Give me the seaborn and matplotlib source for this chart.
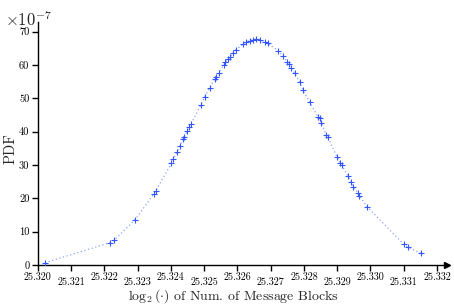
import numpy as np
import pandas as pd
import seaborn as sns
import matplotlib
matplotlib.use("Agg")
import matplotlib.pyplot as plt

# ---- data (PDF values in units of 1e-7) ----
x_vals = [25.32022, 25.32217, 25.32229, 25.32292, 25.32349, 25.32355, 25.32402, 25.32407,
          25.32419, 25.32427, 25.32437, 25.32440, 25.32450, 25.32455, 25.32460, 25.32490,
          25.32502, 25.32517, 25.32532, 25.32535, 25.32544, 25.32560, 25.32564, 25.32572,
          25.32579, 25.32587, 25.32595, 25.32617, 25.32627, 25.32637, 25.32647, 25.32657,
          25.32667, 25.32682, 25.32692, 25.32722, 25.32737, 25.32749, 25.32755, 25.32762,
          25.32772, 25.32787, 25.32797, 25.32817, 25.32842, 25.32847, 25.32852, 25.32867,
          25.32872, 25.32899, 25.32909, 25.32914, 25.32932, 25.32942, 25.32949, 25.32962,
          25.32967, 25.32990, 25.33100, 25.33112, 25.33152]
pdf_vals = [0.7, 6.7, 7.4, 13.5, 21.3, 22.3, 30.5, 31.7,
            33.8, 35.8, 37.7, 38.3, 40.3, 41.3, 42.2, 47.9,
            50.5, 53.1, 55.8, 56.5, 57.7, 60.1, 60.8, 61.8,
            62.5, 63.7, 64.5, 66.2, 67.0, 67.3, 67.5, 67.7,
            67.6, 67.0, 66.5, 64.3, 62.7, 61.0, 60.2, 59.0,
            57.5, 55.0, 52.5, 49.0, 44.5, 44.0, 42.7, 39.0,
            38.3, 32.5, 30.7, 30.0, 26.8, 25.0, 23.5, 21.7,
            20.7, 17.5, 6.2, 5.4, 3.5]
x_ticks = [25.320, 25.321, 25.322, 25.323, 25.324, 25.325, 25.326,
           25.327, 25.328, 25.329, 25.330, 25.331, 25.332]
x_tick_labels = ["25.320", "25.321", "25.322", "25.323", "25.324", "25.325", "25.326",
                 "25.327", "25.328", "25.329", "25.330", "25.331", "25.332"]
y_ticks = [0, 10, 20, 30, 40, 50, 60, 70]
y_tick_labels = ["0", "10", "20", "30", "40", "50", "60", "70"]

df = pd.DataFrame({"x": x_vals, "pdf": pdf_vals})

sns.set_style("ticks")
plt.rcParams["font.family"] = ["cmr10", "DejaVu Serif"]
plt.rcParams["mathtext.fontset"] = "cm"
plt.rcParams["axes.formatter.use_mathtext"] = True

fig = plt.figure(figsize=(4.54, 3.05), dpi=100)
ax = fig.add_axes([0.083, 0.131, 0.9015, 0.797])

sns.lineplot(data=df, x="x", y="pdf", ax=ax, color="#8fa3ff", linestyle=(0, (1, 2)),
             linewidth=0.9, sort=True)
sns.scatterplot(data=df, x="x", y="pdf", ax=ax, marker="+", color="#3355ff",
                s=22, linewidth=0.8, zorder=3)

ax.set_xlim(25.320, 25.3323)
ax.set_ylim(0, 72.9)
ax.set_xticks(x_ticks)
ax.set_xticklabels(x_tick_labels, fontsize=7.2)
ax.set_yticks(y_ticks)
ax.set_yticklabels(y_tick_labels, fontsize=7.5)
for i, t in enumerate(ax.xaxis.get_major_ticks()):
    t.set_pad(1.3 if i % 2 == 0 else 5.2)
ax.tick_params(axis="both", direction="out", length=4, width=1, colors="black")
ax.tick_params(axis="y", pad=2)

for side in ["top", "right"]:
    ax.spines[side].set_visible(False)
for side in ["left", "bottom"]:
    ax.spines[side].set_linewidth(1)
    ax.spines[side].set_color("black")

# axis arrows
ax.plot(1, 0, ">k", markersize=4, transform=ax.get_yaxis_transform(), clip_on=False)
ax.plot(0, 1, "^k", markersize=4, transform=ax.get_xaxis_transform(), clip_on=False)

ax.set_xlabel(r"$\log_2(\cdot)$ of Num. of Message Blocks", fontsize=10)
ax.xaxis.set_label_coords(0.478, -0.129)
ax.xaxis.label.set_va("center")
ax.set_ylabel("PDF", fontsize=10.5)
ax.yaxis.set_label_coords(-0.066, 0.48)
ax.yaxis.label.set_va("center")
fig.text(0.012, 0.97, r"$\times10^{-7}$", fontsize=12, ha="left", va="top")

fig.savefig("out.png", dpi=100)
